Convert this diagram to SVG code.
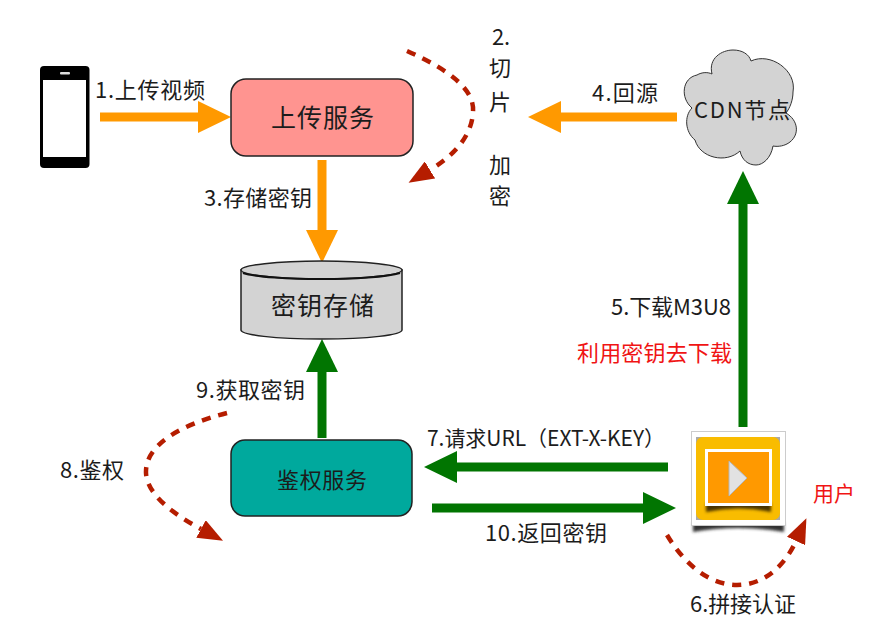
<svg xmlns="http://www.w3.org/2000/svg" width="895" height="619" viewBox="0 0 895 619">
<style>
text{font-family:"Noto Sans CJK SC","Noto Sans",sans-serif;fill:#1c1c1c;font-size:22px}
.box{stroke:#222;stroke-width:1.5}
.o{fill:none;stroke:#ff9900;stroke-width:9;marker-end:url(#ho)}
.g{fill:none;stroke:#017501;stroke-width:9;marker-end:url(#hg)}
.r{fill:none;stroke:#b51d00;stroke-width:4.5;stroke-dasharray:9 8;marker-end:url(#hr)}
.red{fill:#f01414}
</style>
<defs>
<marker id="ho" markerUnits="userSpaceOnUse" viewBox="0 -16 33 32" refX="0" refY="0" markerWidth="33" markerHeight="32" orient="auto"><path d="M0-16L33 0L0 16Z" fill="#ff9900"/></marker>
<marker id="hg" markerUnits="userSpaceOnUse" viewBox="0 -16 33 32" refX="0" refY="0" markerWidth="33" markerHeight="32" orient="auto"><path d="M0-16L33 0L0 16Z" fill="#017501"/></marker>
<marker id="hr" markerUnits="userSpaceOnUse" viewBox="0 -10 25 20" refX="0" refY="0" markerWidth="25" markerHeight="20" orient="auto"><path d="M0-10L25 0L0 10Z" fill="#b51d00"/></marker>
<filter id="sh" x="-10%" y="-40%" width="120%" height="180%"><feGaussianBlur stdDeviation="1.500"/></filter>
</defs>

<g id="connectors">
<path class="o" d="M100 117H198"/>
<path class="o" d="M322 160V230"/>
<path class="o" d="M677 117H561"/>
<path class="g" d="M743 427V204"/>
<path class="g" d="M322 438V372"/>
<path class="g" d="M668 467H457"/>
<path class="g" d="M432 508H643"/>
<path class="r" d="M407 51C450 70 475 90 473 112C472 135 455 155 430 170"/>
<path class="r" d="M227 413C180 425 145 445 146 473C147 495 175 515 201 529"/>
<path class="r" d="M667 535C685 565 710 585 737 585C765 585 785 565 796 541"/>
</g>

<g id="phone">
<rect x="40" y="66" width="49.500" height="102" rx="4" fill="#000"/>
<rect x="43" y="80" width="43" height="77" fill="#fff"/>
<rect x="60" y="72" width="10" height="2.500" rx="1" fill="#ddd"/>
</g>

<g id="upload-service">
<rect class="box" x="231" y="79" width="182" height="77" rx="15" fill="#ff9490"/>
<text x="271" y="127" style="font-size:25px" textLength="103">上传服务</text>
</g>

<g id="cdn-node">
<path d="M692 108C680 98 682 78 697 75C702 72 708 72 712 74C708 58 722 50 733 50C742 50 749 54 751 61C770 52 797 70 793 92C793 100 790 108 786 113C798 120 800 134 790 142C785 146 778 147 773 146C771 158 763 165 756 165C748 165 742 160 740 151C726 164 700 158 695 140C685 132 684 116 692 108Z" fill="#d3d3d3" stroke="#333" stroke-width="1"/>
<text x="694" y="118" style="font-size:22px" textLength="96">CDN节点</text>
</g>

<g id="key-store">
<path d="M241 270V330C241 335 275 339 321.500 339C368 339 402 335 402 330V270Z" fill="#d3d3d3" stroke="#222" stroke-width="1.500"/>
<ellipse cx="321.500" cy="270" rx="80.500" ry="9" fill="#d3d3d3" stroke="#222" stroke-width="1.500"/>
<path d="M243 273C255 277 290 279 321.500 279C353 279 388 277 400 273" fill="none" stroke="#111" stroke-width="2"/>
<text x="271" y="315" style="font-size:25px" textLength="103">密钥存储</text>
</g>

<g id="auth-service">
<rect class="box" x="231" y="440" width="181" height="76" rx="14" fill="#00a99d"/>
<text x="277" y="488" style="font-size:22px" textLength="90">鉴权服务</text>
</g>

<g id="player">
<path d="M693 522H784V532Q738 524 693 532Z" fill="#333" filter="url(#sh)"/>
<rect x="692" y="432" width="93" height="93" fill="#fff"/>
<rect x="691.500" y="431.500" width="94" height="94" fill="none" stroke="#ccc" stroke-width="1"/>
<rect x="696" y="437" width="84" height="83" fill="#a9a9a9"/>
<rect x="696" y="437" width="84" height="83" rx="7" fill="#f9bc00"/>
<path d="M706 503H771V512Q738 505 706 512Z" fill="#4a3300" filter="url(#sh)"/>
<rect x="705" y="449" width="67" height="57" fill="#fff"/>
<rect x="708" y="452" width="61" height="51" fill="#ff9900"/>
<path d="M729 461L747 478L729 496Z" fill="#e2e2e2" stroke="#b5b5b5" stroke-width="1"/>
</g>

<g id="labels">
<text x="95" y="98" textLength="110">1.上传视频</text>
<text x="492" y="45" textLength="18">2.</text>
<text x="489" y="76">切</text>
<text x="489" y="110">片</text>
<text x="489" y="173">加</text>
<text x="489" y="204">密</text>
<text x="204" y="206" textLength="108">3.存储密钥</text>
<text x="592" y="101" textLength="66">4.回源</text>
<text x="611" y="315" textLength="120">5.下载M3U8</text>
<text class="red" x="577" y="361" textLength="155">利用密钥去下载</text>
<text x="196" y="398" textLength="109">9.获取密钥</text>
<text x="60" y="478" textLength="64">8.鉴权</text>
<text x="427" y="446" style="font-size:21px" textLength="238">7.请求URL（EXT-X-KEY）</text>
<text x="485" y="541" textLength="122">10.返回密钥</text>
<text x="690" y="612" textLength="106">6.拼接认证</text>
<text class="red" x="813" y="501" style="font-size:21px" textLength="42">用户</text>
</g>
</svg>
